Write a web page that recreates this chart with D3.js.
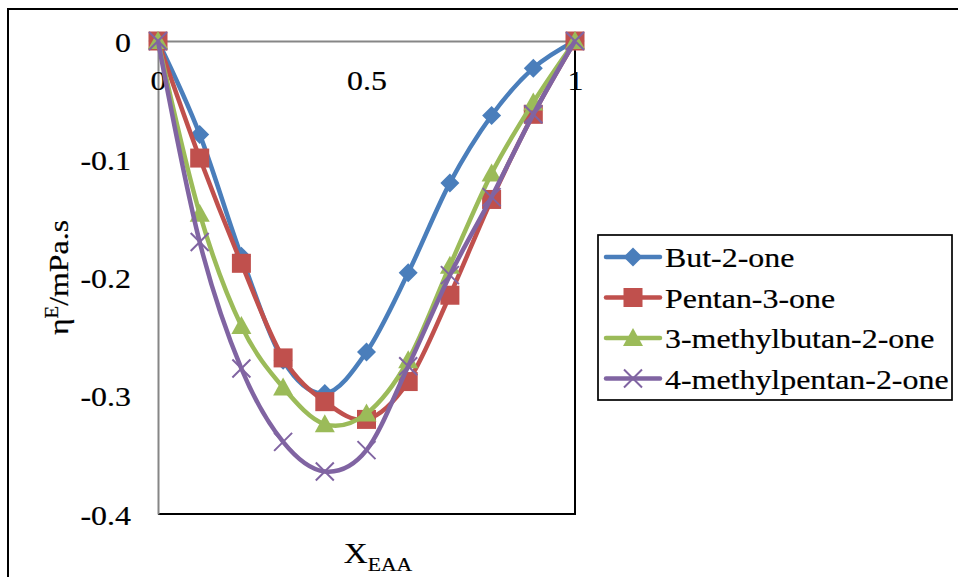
<!DOCTYPE html>
<html>
<head>
<meta charset="utf-8">
<script src="https://cdn.jsdelivr.net/npm/d3@7"></script>
<style>
  body { margin: 0; background: #fff; }
  svg { display: block; }
  svg text { stroke: #000; stroke-width: 0.2px; }
</style>
</head>
<body>
<div id="chart"></div>
<script>
// mole fraction of EAA
const xEAA = [0, 0.1, 0.2, 0.3, 0.4, 0.5, 0.6, 0.7, 0.8, 0.9, 1];

// eta^E / mPa.s for each ketone
const but2one        = [0, -0.079, -0.182, -0.270, -0.298, -0.263, -0.196, -0.120, -0.063, -0.023, 0];
const pentan3one     = [0, -0.099, -0.188, -0.268, -0.305, -0.320, -0.288, -0.215, -0.134, -0.062, 0];
const methylbutanone = [0, -0.146, -0.241, -0.293, -0.324, -0.315, -0.270, -0.190, -0.112, -0.052, 0];
const methylpentanone = [0, -0.170, -0.277, -0.339, -0.364, -0.346, -0.275, -0.198, -0.132, -0.062, 0];

const seriesNames = ["But-2-one", "Pentan-3-one", "3-methylbutan-2-one", "4-methylpentan-2-one"];
const seriesValues = [but2one, pentan3one, methylbutanone, methylpentanone];
const seriesColors = ["#4a7ebb", "#c0504d", "#9bbb59", "#8064a2"];
const seriesMarkers = ["diamond", "square", "triangle", "cross"];

const xTicks = [0, 0.5, 1];
const yTicks = [0, -0.1, -0.2, -0.3, -0.4];

const width = 958, height = 577;
const plot = { left: 158, right: 575, top: 41, bottom: 514 };
const sx = 1.14; // the reference glyphs run wider than Times
const serif = "'Liberation Serif', 'Times New Roman', Times, serif";

const svg = d3.select("#chart")
  .append("svg")
  .attr("width", width)
  .attr("height", height)
  .attr("font-family", serif);

const x = d3.scaleLinear().domain([0, 1]).range([plot.left, plot.right]);
const y = d3.scaleLinear().domain([-0.4, 0]).range([plot.bottom, plot.top]);

// outer chart border
svg.append("rect")
  .attr("x", 8).attr("y", 9)
  .attr("width", 1000).attr("height", 700)
  .attr("fill", "none")
  .attr("stroke", "#000")
  .attr("stroke-width", 2);

// plot area border (right and bottom show)
svg.append("path")
  .attr("d", `M${plot.left},${plot.bottom}H${plot.right}V${plot.top}`)
  .attr("fill", "none")
  .attr("stroke", "#000")
  .attr("stroke-width", 2);

// y axis
const yAxis = svg.append("g")
  .attr("transform", `translate(${plot.left},0)`)
  .call(d3.axisLeft(y).tickValues(yTicks).tickSize(0).tickSizeOuter(0).tickFormat(d => String(d)));
yAxis.attr("font-family", serif).attr("font-size", 28);
yAxis.select(".domain").attr("stroke", "#868686").attr("stroke-width", 2);
yAxis.selectAll("text")
  .attr("x", null).attr("dy", null)
  .attr("fill", "#000")
  .attr("transform", `translate(-27,10) scale(${sx},1)`);

// x axis sits on y = 0, labels below the line
const xAxis = svg.append("g")
  .attr("transform", `translate(0,${y(0)})`)
  .call(d3.axisBottom(x).tickValues(xTicks).tickSize(0).tickSizeOuter(0).tickFormat(d => String(d)));
xAxis.attr("font-family", serif).attr("font-size", 28);
xAxis.select(".domain").attr("stroke", "#868686").attr("stroke-width", 2);
xAxis.selectAll("text")
  .attr("y", null).attr("dy", null)
  .attr("fill", "#000")
  .attr("transform", `translate(0,49) scale(${sx},1)`);

// axis titles
const yTitle = svg.append("text")
  .attr("text-anchor", "middle")
  .attr("transform", `translate(68,${(plot.top + plot.bottom) / 2}) rotate(-90) scale(${sx},1)`)
  .attr("font-size", 28);
yTitle.append("tspan").text("η");
yTitle.append("tspan").attr("dy", -10).attr("font-size", 18).text("E");
yTitle.append("tspan").attr("dy", 10).text("/mPa.s");

const xTitle = svg.append("text")
  .attr("text-anchor", "middle")
  .attr("transform", `translate(378,563) scale(${sx},1)`)
  .attr("font-size", 29);
xTitle.append("tspan").text("X");
xTitle.append("tspan").attr("dy", 8).attr("font-size", 19).text("EAA");

// marker drawing
function drawMarker(g, type, color) {
  if (type === "diamond") {
    g.append("path").attr("d", "M0,-9.5L9.5,0L0,9.5L-9.5,0Z").attr("fill", color);
  } else if (type === "square") {
    g.append("rect").attr("x", -9.5).attr("y", -9.5).attr("width", 19).attr("height", 19).attr("fill", color);
  } else if (type === "triangle") {
    g.append("path").attr("d", "M0,-10L10,8L-10,8Z").attr("fill", color);
  } else {
    g.append("path").attr("d", "M-9,-9L9,9M-9,9L9,-9")
      .attr("stroke", color).attr("stroke-width", 2).attr("fill", "none");
  }
}

const line = d3.line()
  .x(d => x(d[0]))
  .y(d => y(d[1]))
  .curve(d3.curveCardinal.tension(0));

seriesValues.forEach((vals, i) => {
  const pts = xEAA.map((xv, j) => [xv, vals[j]]);
  const g = svg.append("g");
  g.append("path")
    .attr("d", line(pts))
    .attr("fill", "none")
    .attr("stroke", seriesColors[i])
    .attr("stroke-width", 4.5)
    .attr("stroke-linejoin", "round");
  pts.forEach(p => {
    const m = g.append("g").attr("transform", `translate(${x(p[0])},${y(p[1])})`);
    drawMarker(m, seriesMarkers[i], seriesColors[i]);
  });
});

// Legend
const legend = svg.append("g");
legend.append("rect")
  .attr("x", 598).attr("y", 235)
  .attr("width", 354).attr("height", 165)
  .attr("fill", "#fff")
  .attr("stroke", "#000")
  .attr("stroke-width", 1.7);

seriesNames.forEach((name, i) => {
  const cy = 257 + i * 40.5;
  legend.append("line")
    .attr("x1", 606).attr("x2", 660)
    .attr("y1", cy).attr("y2", cy)
    .attr("stroke", seriesColors[i])
    .attr("stroke-width", 4.5)
    .attr("stroke-linecap", "round");
  const m = legend.append("g").attr("transform", `translate(633,${cy})`);
  drawMarker(m, seriesMarkers[i], seriesColors[i]);
  legend.append("text")
    .attr("transform", `translate(665,${cy + 10}) scale(${sx},1)`)
    .attr("font-size", 28)
    .text(name);
});
</script>
</body>
</html>
